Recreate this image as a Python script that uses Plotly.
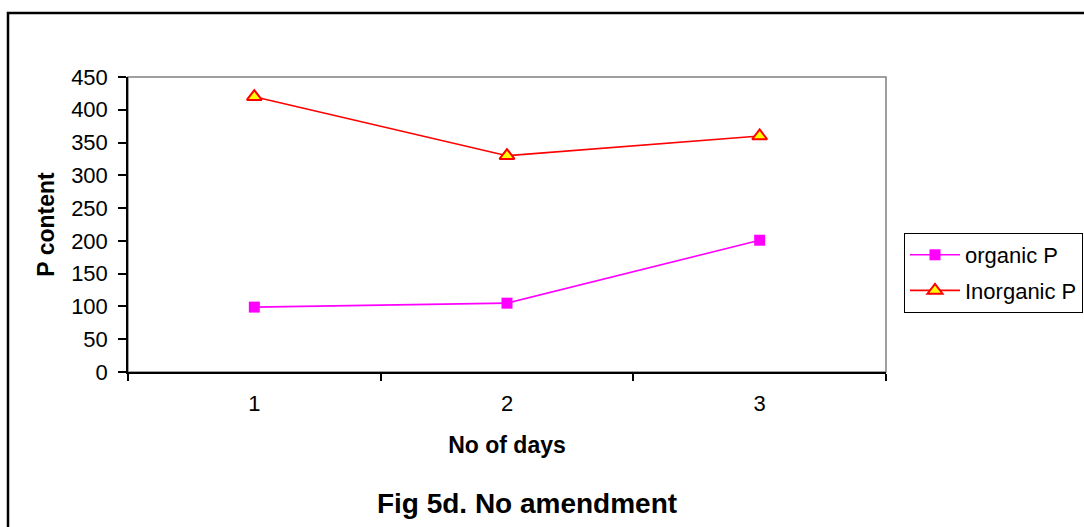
import plotly.graph_objects as go

# Phosphorus fractions over time with no amendment
days = ["1", "2", "3"]
organic_p = [99, 105, 201]
inorganic_p = [420, 330, 360]
y_ticks = [0, 50, 100, 150, 200, 250, 300, 350, 400, 450]

FONT = "Liberation Sans, Arial, sans-serif"

fig = go.Figure()
fig.add_trace(go.Scatter(
    x=days, y=organic_p, name="organic P", mode="lines+markers",
    line=dict(color="#FF00FF", width=1.6),
    marker=dict(symbol="square", size=11, color="#FF00FF"),
    legendgroup="a",
))
fig.add_trace(go.Scatter(
    x=days, y=inorganic_p, name="Inorganic P", mode="lines+markers",
    line=dict(color="#FF0000", width=1.6),
    marker=dict(symbol="triangle-up", size=13, color="#FFFF00",
                line=dict(color="#FF0000", width=2)),
    legendgroup="b",
))

L, R, T, B = 128, 198, 77, 155
W, H = 1084, 527
pw, ph = W - L - R, H - T - B

def px_x(p):
    return (p - L) / pw

def px_y(p):
    return (H - B - p) / ph

fig.update_layout(
    width=W, height=H,
    margin=dict(l=L, r=R, t=T, b=B, autoexpand=False),
    paper_bgcolor="white", plot_bgcolor="white",
    font=dict(family=FONT, size=22, color="black"),
    title=dict(text="<b>Fig 5d. No amendment</b>", font=dict(size=28),
               x=px_x(527), xref="paper", xanchor="center",
               y=1 - 503 / H, yref="container", yanchor="middle"),
    xaxis=dict(type="category", categoryorder="array", categoryarray=days,
               range=[-0.5, 2.5], tickson="boundaries",
               ticks="outside", ticklen=7, tickwidth=1.5, tickcolor="black",
               ticklabelstandoff=11,
               showline=True, linecolor="black", linewidth=1.5,
               showgrid=False, zeroline=False,
               title=dict(text="<b>No of days</b>", standoff=22,
                          font=dict(size=23))),
    yaxis=dict(range=[0, 450], tickvals=y_ticks,
               ticks="outside", ticklen=8, tickwidth=1.5, tickcolor="black",
               ticklabelstandoff=6,
               showline=True, linecolor="black", linewidth=1.5,
               showgrid=False, zeroline=False,
               title=dict(text="<b>P content</b>", standoff=10,
                          font=dict(size=23))),
    legend=dict(x=px_x(904), y=px_y(233), xanchor="left", yanchor="top",
                bordercolor="black", borderwidth=1, bgcolor="white",
                tracegroupgap=4, itemwidth=50, font=dict(size=22)),
    shapes=[
        # plot area frame
        dict(type="rect", xref="paper", yref="paper", x0=0, x1=1, y0=0, y1=1,
             line=dict(color="#808080", width=1.5), layer="below"),
        # chart border
        dict(type="rect", xref="paper", yref="paper",
             x0=px_x(8), x1=px_x(1095), y0=px_y(540), y1=px_y(13),
             line=dict(color="black", width=2.5)),
    ],
)

fig.write_html("out.html")
